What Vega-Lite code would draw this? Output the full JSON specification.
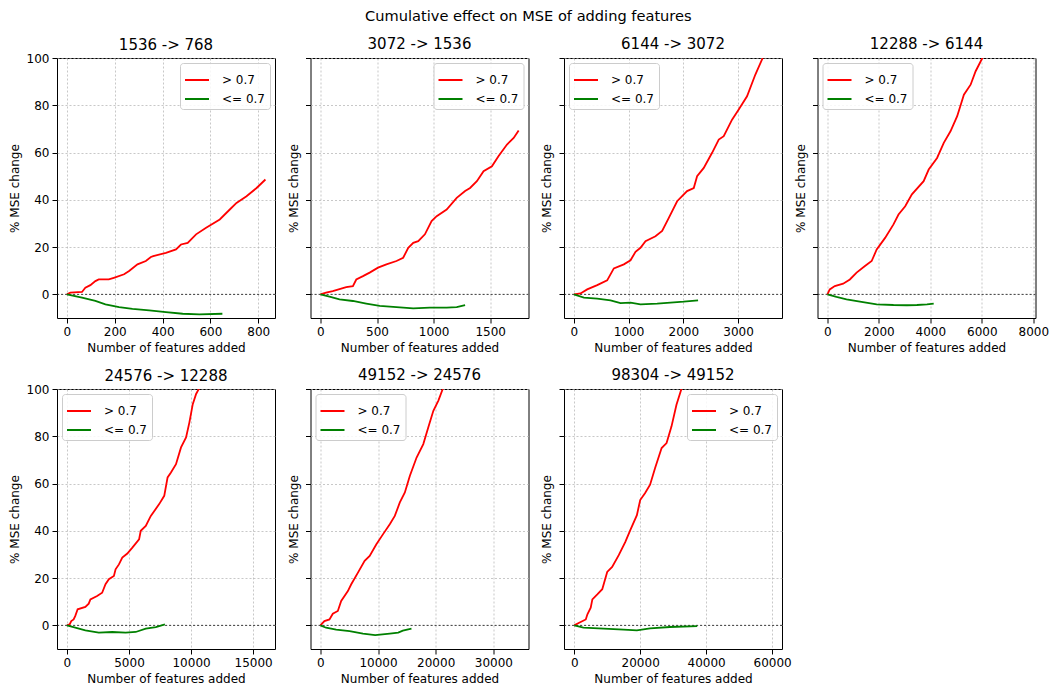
{
"$schema":"https://vega.github.io/schema/vega-lite/v6.json",
"background":"white",
"padding":{"left":7,"top":9,"right":5,"bottom":5},
"title":{"text":"Cumulative effect on MSE of adding features","fontSize":14.6,"fontWeight":"normal","anchor":"middle","color":"black","offset":12},
"columns":4,
"spacing":{"row":71,"column":35.5},
"bounds":"flush",
"data":{"values":[
{"p":1,"s":"> 0.7","x":0,"y":0},{"p":1,"s":"> 0.7","x":14,"y":0.7},{"p":1,"s":"> 0.7","x":63,"y":1},{"p":1,"s":"> 0.7","x":77,"y":2.8},{"p":1,"s":"> 0.7","x":98,"y":3.9},{"p":1,"s":"> 0.7","x":119,"y":5.6},{"p":1,"s":"> 0.7","x":133,"y":6.3},{"p":1,"s":"> 0.7","x":175,"y":6.3},{"p":1,"s":"> 0.7","x":196,"y":7},{"p":1,"s":"> 0.7","x":239,"y":8.5},{"p":1,"s":"> 0.7","x":260,"y":9.9},{"p":1,"s":"> 0.7","x":295,"y":12.7},{"p":1,"s":"> 0.7","x":330,"y":14.1},{"p":1,"s":"> 0.7","x":351,"y":15.8},{"p":1,"s":"> 0.7","x":361,"y":16.2},{"p":1,"s":"> 0.7","x":414,"y":17.6},{"p":1,"s":"> 0.7","x":456,"y":19},{"p":1,"s":"> 0.7","x":477,"y":21.1},{"p":1,"s":"> 0.7","x":505,"y":21.8},{"p":1,"s":"> 0.7","x":540,"y":25.4},{"p":1,"s":"> 0.7","x":582,"y":28.2},{"p":1,"s":"> 0.7","x":639,"y":31.7},{"p":1,"s":"> 0.7","x":681,"y":35.9},{"p":1,"s":"> 0.7","x":709,"y":38.7},{"p":1,"s":"> 0.7","x":751,"y":41.5},{"p":1,"s":"> 0.7","x":793,"y":45},{"p":1,"s":"> 0.7","x":830,"y":48.6},
{"p":1,"s":"<= 0.7","x":0,"y":0},{"p":1,"s":"<= 0.7","x":63,"y":-1.4},{"p":1,"s":"<= 0.7","x":119,"y":-2.8},{"p":1,"s":"<= 0.7","x":161,"y":-4.2},{"p":1,"s":"<= 0.7","x":218,"y":-5.4},{"p":1,"s":"<= 0.7","x":274,"y":-6.1},{"p":1,"s":"<= 0.7","x":344,"y":-6.8},{"p":1,"s":"<= 0.7","x":414,"y":-7.5},{"p":1,"s":"<= 0.7","x":484,"y":-8.2},{"p":1,"s":"<= 0.7","x":554,"y":-8.5},{"p":1,"s":"<= 0.7","x":650,"y":-8.2},
{"p":2,"s":"> 0.7","x":0,"y":0},{"p":2,"s":"> 0.7","x":50,"y":0.7},{"p":2,"s":"> 0.7","x":109,"y":1.4},{"p":2,"s":"> 0.7","x":228,"y":3.1},{"p":2,"s":"> 0.7","x":287,"y":3.5},{"p":2,"s":"> 0.7","x":317,"y":6.3},{"p":2,"s":"> 0.7","x":376,"y":7.7},{"p":2,"s":"> 0.7","x":435,"y":9.2},{"p":2,"s":"> 0.7","x":509,"y":11.3},{"p":2,"s":"> 0.7","x":583,"y":12.7},{"p":2,"s":"> 0.7","x":672,"y":14.1},{"p":2,"s":"> 0.7","x":731,"y":15.5},{"p":2,"s":"> 0.7","x":776,"y":19.7},{"p":2,"s":"> 0.7","x":820,"y":21.8},{"p":2,"s":"> 0.7","x":864,"y":22.5},{"p":2,"s":"> 0.7","x":923,"y":25.4},{"p":2,"s":"> 0.7","x":982,"y":31},{"p":2,"s":"> 0.7","x":1027,"y":33.1},{"p":2,"s":"> 0.7","x":1115,"y":35.9},{"p":2,"s":"> 0.7","x":1204,"y":40.8},{"p":2,"s":"> 0.7","x":1278,"y":43.7},{"p":2,"s":"> 0.7","x":1322,"y":45},{"p":2,"s":"> 0.7","x":1382,"y":47.9},{"p":2,"s":"> 0.7","x":1441,"y":52.1},{"p":2,"s":"> 0.7","x":1515,"y":54.2},{"p":2,"s":"> 0.7","x":1574,"y":58.5},{"p":2,"s":"> 0.7","x":1648,"y":63.4},{"p":2,"s":"> 0.7","x":1707,"y":66.2},{"p":2,"s":"> 0.7","x":1751,"y":69.3},
{"p":2,"s":"<= 0.7","x":0,"y":0},{"p":2,"s":"<= 0.7","x":80,"y":-1},{"p":2,"s":"<= 0.7","x":169,"y":-2.1},{"p":2,"s":"<= 0.7","x":287,"y":-2.8},{"p":2,"s":"<= 0.7","x":405,"y":-3.9},{"p":2,"s":"<= 0.7","x":524,"y":-4.9},{"p":2,"s":"<= 0.7","x":672,"y":-5.4},{"p":2,"s":"<= 0.7","x":820,"y":-5.9},{"p":2,"s":"<= 0.7","x":967,"y":-5.6},{"p":2,"s":"<= 0.7","x":1115,"y":-5.6},{"p":2,"s":"<= 0.7","x":1204,"y":-5.4},{"p":2,"s":"<= 0.7","x":1278,"y":-4.6},
{"p":3,"s":"> 0.7","x":0,"y":0},{"p":3,"s":"> 0.7","x":122,"y":0.4},{"p":3,"s":"> 0.7","x":243,"y":2.1},{"p":3,"s":"> 0.7","x":426,"y":3.9},{"p":3,"s":"> 0.7","x":608,"y":5.9},{"p":3,"s":"> 0.7","x":730,"y":11},{"p":3,"s":"> 0.7","x":913,"y":12.7},{"p":3,"s":"> 0.7","x":1035,"y":14.4},{"p":3,"s":"> 0.7","x":1126,"y":18},{"p":3,"s":"> 0.7","x":1217,"y":19.7},{"p":3,"s":"> 0.7","x":1309,"y":22.5},{"p":3,"s":"> 0.7","x":1491,"y":24.6},{"p":3,"s":"> 0.7","x":1613,"y":26.8},{"p":3,"s":"> 0.7","x":1735,"y":32.4},{"p":3,"s":"> 0.7","x":1887,"y":39.4},{"p":3,"s":"> 0.7","x":2069,"y":43.7},{"p":3,"s":"> 0.7","x":2191,"y":45},{"p":3,"s":"> 0.7","x":2252,"y":50},{"p":3,"s":"> 0.7","x":2374,"y":53.5},{"p":3,"s":"> 0.7","x":2526,"y":59.9},{"p":3,"s":"> 0.7","x":2648,"y":65.5},{"p":3,"s":"> 0.7","x":2739,"y":66.9},{"p":3,"s":"> 0.7","x":2891,"y":73.9},{"p":3,"s":"> 0.7","x":3013,"y":78.2},{"p":3,"s":"> 0.7","x":3165,"y":83.8},{"p":3,"s":"> 0.7","x":3317,"y":93},{"p":3,"s":"> 0.7","x":3451,"y":100},{"p":3,"s":"> 0.7","x":3623,"y":112},
{"p":3,"s":"<= 0.7","x":0,"y":0},{"p":3,"s":"<= 0.7","x":183,"y":-1.4},{"p":3,"s":"<= 0.7","x":426,"y":-1.8},{"p":3,"s":"<= 0.7","x":669,"y":-2.5},{"p":3,"s":"<= 0.7","x":852,"y":-3.7},{"p":3,"s":"<= 0.7","x":1035,"y":-3.5},{"p":3,"s":"<= 0.7","x":1217,"y":-4.2},{"p":3,"s":"<= 0.7","x":1522,"y":-3.9},{"p":3,"s":"<= 0.7","x":1765,"y":-3.5},{"p":3,"s":"<= 0.7","x":2008,"y":-3.1},{"p":3,"s":"<= 0.7","x":2270,"y":-2.5},
{"p":4,"s":"> 0.7","x":0,"y":0},{"p":4,"s":"> 0.7","x":91,"y":2.1},{"p":4,"s":"> 0.7","x":287,"y":3.5},{"p":4,"s":"> 0.7","x":612,"y":4.5},{"p":4,"s":"> 0.7","x":873,"y":6.3},{"p":4,"s":"> 0.7","x":1134,"y":9.2},{"p":4,"s":"> 0.7","x":1459,"y":12},{"p":4,"s":"> 0.7","x":1720,"y":14.1},{"p":4,"s":"> 0.7","x":1915,"y":19},{"p":4,"s":"> 0.7","x":2241,"y":23.9},{"p":4,"s":"> 0.7","x":2567,"y":29.6},{"p":4,"s":"> 0.7","x":2762,"y":33.8},{"p":4,"s":"> 0.7","x":3023,"y":37.3},{"p":4,"s":"> 0.7","x":3283,"y":42.3},{"p":4,"s":"> 0.7","x":3739,"y":47.9},{"p":4,"s":"> 0.7","x":3935,"y":52.8},{"p":4,"s":"> 0.7","x":4261,"y":57.7},{"p":4,"s":"> 0.7","x":4521,"y":64.1},{"p":4,"s":"> 0.7","x":4782,"y":69},{"p":4,"s":"> 0.7","x":5042,"y":75.4},{"p":4,"s":"> 0.7","x":5303,"y":84.5},{"p":4,"s":"> 0.7","x":5564,"y":88.7},{"p":4,"s":"> 0.7","x":5759,"y":94.4},{"p":4,"s":"> 0.7","x":6020,"y":100},{"p":4,"s":"> 0.7","x":7700,"y":125},
{"p":4,"s":"<= 0.7","x":0,"y":0},{"p":4,"s":"<= 0.7","x":352,"y":-1.1},{"p":4,"s":"<= 0.7","x":743,"y":-2.1},{"p":4,"s":"<= 0.7","x":1264,"y":-3.1},{"p":4,"s":"<= 0.7","x":1915,"y":-4.2},{"p":4,"s":"<= 0.7","x":2567,"y":-4.5},{"p":4,"s":"<= 0.7","x":3088,"y":-4.6},{"p":4,"s":"<= 0.7","x":3479,"y":-4.5},{"p":4,"s":"<= 0.7","x":3870,"y":-4.2},{"p":4,"s":"<= 0.7","x":4130,"y":-3.9},
{"p":5,"s":"> 0.7","x":0,"y":0},{"p":5,"s":"> 0.7","x":216,"y":0.4},{"p":5,"s":"> 0.7","x":351,"y":1.8},{"p":5,"s":"> 0.7","x":541,"y":2.5},{"p":5,"s":"> 0.7","x":676,"y":4},{"p":5,"s":"> 0.7","x":865,"y":6.8},{"p":5,"s":"> 0.7","x":1486,"y":7.8},{"p":5,"s":"> 0.7","x":1757,"y":9.2},{"p":5,"s":"> 0.7","x":1892,"y":11},{"p":5,"s":"> 0.7","x":2432,"y":12.4},{"p":5,"s":"> 0.7","x":2838,"y":13.8},{"p":5,"s":"> 0.7","x":3108,"y":17.4},{"p":5,"s":"> 0.7","x":3378,"y":19.5},{"p":5,"s":"> 0.7","x":3784,"y":20.9},{"p":5,"s":"> 0.7","x":3919,"y":23.7},{"p":5,"s":"> 0.7","x":4189,"y":25.8},{"p":5,"s":"> 0.7","x":4459,"y":28.7},{"p":5,"s":"> 0.7","x":4865,"y":30.4},{"p":5,"s":"> 0.7","x":5270,"y":32.9},{"p":5,"s":"> 0.7","x":5811,"y":36.4},{"p":5,"s":"> 0.7","x":5946,"y":40},{"p":5,"s":"> 0.7","x":6351,"y":42.1},{"p":5,"s":"> 0.7","x":6757,"y":46.3},{"p":5,"s":"> 0.7","x":7432,"y":51.3},{"p":5,"s":"> 0.7","x":7838,"y":54.8},{"p":5,"s":"> 0.7","x":8108,"y":62.6},{"p":5,"s":"> 0.7","x":8378,"y":64.7},{"p":5,"s":"> 0.7","x":8784,"y":68.2},{"p":5,"s":"> 0.7","x":9189,"y":75.3},{"p":5,"s":"> 0.7","x":9595,"y":79.5},{"p":5,"s":"> 0.7","x":9865,"y":85.9},{"p":5,"s":"> 0.7","x":10135,"y":93.6},{"p":5,"s":"> 0.7","x":10405,"y":97.9},{"p":5,"s":"> 0.7","x":10622,"y":100},{"p":5,"s":"> 0.7","x":13000,"y":140},{"p":5,"s":"> 0.7","x":15960,"y":175},
{"p":5,"s":"<= 0.7","x":0,"y":0},{"p":5,"s":"<= 0.7","x":676,"y":-1},{"p":5,"s":"<= 0.7","x":1486,"y":-2.1},{"p":5,"s":"<= 0.7","x":2568,"y":-3.1},{"p":5,"s":"<= 0.7","x":3649,"y":-2.8},{"p":5,"s":"<= 0.7","x":4730,"y":-3.1},{"p":5,"s":"<= 0.7","x":5541,"y":-2.8},{"p":5,"s":"<= 0.7","x":6351,"y":-1.4},{"p":5,"s":"<= 0.7","x":7162,"y":-0.7},{"p":5,"s":"<= 0.7","x":7892,"y":0.4},
{"p":6,"s":"> 0.7","x":0,"y":0},{"p":6,"s":"> 0.7","x":698,"y":1.8},{"p":6,"s":"> 0.7","x":1570,"y":2.5},{"p":6,"s":"> 0.7","x":2151,"y":4.9},{"p":6,"s":"> 0.7","x":3023,"y":6.1},{"p":6,"s":"> 0.7","x":3605,"y":10.3},{"p":6,"s":"> 0.7","x":4767,"y":14.5},{"p":6,"s":"> 0.7","x":5349,"y":17.4},{"p":6,"s":"> 0.7","x":6512,"y":22.3},{"p":6,"s":"> 0.7","x":7674,"y":27.3},{"p":6,"s":"> 0.7","x":8547,"y":29.4},{"p":6,"s":"> 0.7","x":9709,"y":34.3},{"p":6,"s":"> 0.7","x":10872,"y":38.6},{"p":6,"s":"> 0.7","x":12035,"y":42.8},{"p":6,"s":"> 0.7","x":12907,"y":46.3},{"p":6,"s":"> 0.7","x":13779,"y":52},{"p":6,"s":"> 0.7","x":14651,"y":56.2},{"p":6,"s":"> 0.7","x":15523,"y":63.3},{"p":6,"s":"> 0.7","x":16686,"y":71},{"p":6,"s":"> 0.7","x":17849,"y":76.7},{"p":6,"s":"> 0.7","x":18721,"y":83.8},{"p":6,"s":"> 0.7","x":19593,"y":90.8},{"p":6,"s":"> 0.7","x":20465,"y":95.1},{"p":6,"s":"> 0.7","x":21221,"y":100},{"p":6,"s":"> 0.7","x":27000,"y":150},{"p":6,"s":"> 0.7","x":34380,"y":200},
{"p":6,"s":"<= 0.7","x":0,"y":0},{"p":6,"s":"<= 0.7","x":988,"y":-1},{"p":6,"s":"<= 0.7","x":2733,"y":-1.8},{"p":6,"s":"<= 0.7","x":5058,"y":-2.4},{"p":6,"s":"<= 0.7","x":7384,"y":-3.5},{"p":6,"s":"<= 0.7","x":9500,"y":-4.1},{"p":6,"s":"<= 0.7","x":12035,"y":-3.5},{"p":6,"s":"<= 0.7","x":13500,"y":-3.1},{"p":6,"s":"<= 0.7","x":14300,"y":-2.2},{"p":6,"s":"<= 0.7","x":15800,"y":-1.4},
{"p":7,"s":"> 0.7","x":0,"y":0},{"p":7,"s":"> 0.7","x":1500,"y":1.1},{"p":7,"s":"> 0.7","x":3500,"y":2.5},{"p":7,"s":"> 0.7","x":4000,"y":4.7},{"p":7,"s":"> 0.7","x":5000,"y":7.5},{"p":7,"s":"> 0.7","x":5500,"y":11},{"p":7,"s":"> 0.7","x":7000,"y":13.1},{"p":7,"s":"> 0.7","x":8500,"y":15.3},{"p":7,"s":"> 0.7","x":10000,"y":22.6},{"p":7,"s":"> 0.7","x":11500,"y":24.7},{"p":7,"s":"> 0.7","x":13500,"y":29.7},{"p":7,"s":"> 0.7","x":15500,"y":35.3},{"p":7,"s":"> 0.7","x":17000,"y":40.3},{"p":7,"s":"> 0.7","x":19000,"y":46.6},{"p":7,"s":"> 0.7","x":20000,"y":53},{"p":7,"s":"> 0.7","x":21500,"y":56},{"p":7,"s":"> 0.7","x":23000,"y":59.5},{"p":7,"s":"> 0.7","x":24500,"y":66.5},{"p":7,"s":"> 0.7","x":26500,"y":75},{"p":7,"s":"> 0.7","x":28000,"y":77.1},{"p":7,"s":"> 0.7","x":29500,"y":84.2},{"p":7,"s":"> 0.7","x":31000,"y":93.3},{"p":7,"s":"> 0.7","x":32500,"y":100},{"p":7,"s":"> 0.7","x":45000,"y":170},{"p":7,"s":"> 0.7","x":60000,"y":250},
{"p":7,"s":"<= 0.7","x":0,"y":0},{"p":7,"s":"<= 0.7","x":2800,"y":-1},{"p":7,"s":"<= 0.7","x":8900,"y":-1.4},{"p":7,"s":"<= 0.7","x":15000,"y":-1.8},{"p":7,"s":"<= 0.7","x":19000,"y":-2.1},{"p":7,"s":"<= 0.7","x":23000,"y":-1.3},{"p":7,"s":"<= 0.7","x":29000,"y":-0.7},{"p":7,"s":"<= 0.7","x":37300,"y":-0.3}
]},
"concat":[
{"title":{"text":"1536 -> 768","fontWeight":"normal","fontSize":15,"dy":7},"width":218,"height":260,"layer":[
 {"data":{"values":[{}]},"mark":{"type":"rule","color":"black","strokeDash":[2,2],"strokeWidth":0.7},"encoding":{"y":{"datum":0,"type":"quantitative"}}},
 {"transform":[{"filter":"datum.p==1"}],"mark":{"type":"line","clip":true,"strokeWidth":1.8},"encoding":{
  "x":{"field":"x","type":"quantitative","scale":{"domain":[-41.5,870],"nice":false,"zero":false},"axis":{"values":[0,200,400,600,800],"format":"d","title":"Number of features added"}},
  "y":{"field":"y","type":"quantitative","scale":{"domain":[-10,100],"nice":false,"zero":false},"axis":{"values":[0,20,40,60,80,100],"title":"% MSE change"}},
  "color":{"field":"s","type":"nominal","scale":{"domain":["> 0.7","<= 0.7"],"range":["#ff0000","#008000"]},"legend":{"title":null,"orient":"top-right"}}}}]},
{"title":{"text":"3072 -> 1536","fontWeight":"normal","fontSize":15},"width":218,"height":260,"layer":[
 {"data":{"values":[{}]},"mark":{"type":"rule","color":"black","strokeDash":[2,2],"strokeWidth":0.7},"encoding":{"y":{"datum":0,"type":"quantitative"}}},
 {"transform":[{"filter":"datum.p==2"}],"mark":{"type":"line","clip":true,"strokeWidth":1.8},"encoding":{
  "x":{"field":"x","type":"quantitative","scale":{"domain":[-87.5,1838],"nice":false,"zero":false},"axis":{"values":[0,500,1000,1500],"format":"d","title":"Number of features added"}},
  "y":{"field":"y","type":"quantitative","scale":{"domain":[-10,100],"nice":false,"zero":false},"axis":{"values":[0,20,40,60,80,100],"labels":false,"title":"% MSE change"}},
  "color":{"field":"s","type":"nominal","scale":{"domain":["> 0.7","<= 0.7"],"range":["#ff0000","#008000"]},"legend":{"title":null,"orient":"top-right"}}}}]},
{"title":{"text":"6144 -> 3072","fontWeight":"normal","fontSize":15},"width":218,"height":260,"layer":[
 {"data":{"values":[{}]},"mark":{"type":"rule","color":"black","strokeDash":[2,2],"strokeWidth":0.7},"encoding":{"y":{"datum":0,"type":"quantitative"}}},
 {"transform":[{"filter":"datum.p==3"}],"mark":{"type":"line","clip":true,"strokeWidth":1.8},"encoding":{
  "x":{"field":"x","type":"quantitative","scale":{"domain":[-181,3804],"nice":false,"zero":false},"axis":{"values":[0,1000,2000,3000],"format":"d","title":"Number of features added"}},
  "y":{"field":"y","type":"quantitative","scale":{"domain":[-10,100],"nice":false,"zero":false},"axis":{"values":[0,20,40,60,80,100],"labels":false,"title":"% MSE change"}},
  "color":{"field":"s","type":"nominal","scale":{"domain":["> 0.7","<= 0.7"],"range":["#ff0000","#008000"]},"legend":{"title":null,"orient":"top-left"}}}}]},
{"title":{"text":"12288 -> 6144","fontWeight":"normal","fontSize":15},"width":218,"height":260,"layer":[
 {"data":{"values":[{}]},"mark":{"type":"rule","color":"black","strokeDash":[2,2],"strokeWidth":0.7},"encoding":{"y":{"datum":0,"type":"quantitative"}}},
 {"transform":[{"filter":"datum.p==4"}],"mark":{"type":"line","clip":true,"strokeWidth":1.8},"encoding":{
  "x":{"field":"x","type":"quantitative","scale":{"domain":[-385,8085],"nice":false,"zero":false},"axis":{"values":[0,2000,4000,6000,8000],"format":"d","title":"Number of features added"}},
  "y":{"field":"y","type":"quantitative","scale":{"domain":[-10,100],"nice":false,"zero":false},"axis":{"values":[0,20,40,60,80,100],"labels":false,"title":"% MSE change"}},
  "color":{"field":"s","type":"nominal","scale":{"domain":["> 0.7","<= 0.7"],"range":["#ff0000","#008000"]},"legend":{"title":null,"orient":"top-left"}}}}]},
{"title":{"text":"24576 -> 12288","fontWeight":"normal","fontSize":15,"dy":7},"width":218,"height":260,"layer":[
 {"data":{"values":[{}]},"mark":{"type":"rule","color":"black","strokeDash":[2,2],"strokeWidth":0.7},"encoding":{"y":{"datum":0,"type":"quantitative"}}},
 {"transform":[{"filter":"datum.p==5"}],"mark":{"type":"line","clip":true,"strokeWidth":1.8},"encoding":{
  "x":{"field":"x","type":"quantitative","scale":{"domain":[-798,16758],"nice":false,"zero":false},"axis":{"values":[0,5000,10000,15000],"format":"d","title":"Number of features added"}},
  "y":{"field":"y","type":"quantitative","scale":{"domain":[-10,100],"nice":false,"zero":false},"axis":{"values":[0,20,40,60,80,100],"title":"% MSE change"}},
  "color":{"field":"s","type":"nominal","scale":{"domain":["> 0.7","<= 0.7"],"range":["#ff0000","#008000"]},"legend":{"title":null,"orient":"top-left"}}}}]},
{"title":{"text":"49152 -> 24576","fontWeight":"normal","fontSize":15},"width":218,"height":260,"layer":[
 {"data":{"values":[{}]},"mark":{"type":"rule","color":"black","strokeDash":[2,2],"strokeWidth":0.7},"encoding":{"y":{"datum":0,"type":"quantitative"}}},
 {"transform":[{"filter":"datum.p==6"}],"mark":{"type":"line","clip":true,"strokeWidth":1.8},"encoding":{
  "x":{"field":"x","type":"quantitative","scale":{"domain":[-1719,36100],"nice":false,"zero":false},"axis":{"values":[0,10000,20000,30000],"format":"d","title":"Number of features added"}},
  "y":{"field":"y","type":"quantitative","scale":{"domain":[-10,100],"nice":false,"zero":false},"axis":{"values":[0,20,40,60,80,100],"labels":false,"title":"% MSE change"}},
  "color":{"field":"s","type":"nominal","scale":{"domain":["> 0.7","<= 0.7"],"range":["#ff0000","#008000"]},"legend":{"title":null,"orient":"top-left"}}}}]},
{"title":{"text":"98304 -> 49152","fontWeight":"normal","fontSize":15},"width":218,"height":260,"layer":[
 {"data":{"values":[{}]},"mark":{"type":"rule","color":"black","strokeDash":[2,2],"strokeWidth":0.7},"encoding":{"y":{"datum":0,"type":"quantitative"}}},
 {"transform":[{"filter":"datum.p==7"}],"mark":{"type":"line","clip":true,"strokeWidth":1.8},"encoding":{
  "x":{"field":"x","type":"quantitative","scale":{"domain":[-3100,63000],"nice":false,"zero":false},"axis":{"values":[0,20000,40000,60000],"format":"d","title":"Number of features added"}},
  "y":{"field":"y","type":"quantitative","scale":{"domain":[-10,100],"nice":false,"zero":false},"axis":{"values":[0,20,40,60,80,100],"labels":false,"title":"% MSE change"}},
  "color":{"field":"s","type":"nominal","scale":{"domain":["> 0.7","<= 0.7"],"range":["#ff0000","#008000"]},"legend":{"title":null,"orient":"top-right"}}}}]}
],
"resolve":{"scale":{"color":"independent"},"legend":{"color":"independent"}},
"config":{
 "font":"DejaVu Sans",
 "view":{"stroke":"black","strokeWidth":1},
 "axis":{"domain":false,"grid":true,"gridColor":"#b0b0b0","gridDash":[2,2],"gridWidth":0.7,"tickColor":"black","tickSize":5,"labelColor":"black","labelFontSize":12,"titleFontSize":12,"titleFontWeight":"normal","titleColor":"black","labelPadding":3,"titlePadding":5},
 "title":{"fontSize":15,"fontWeight":"normal","color":"black","offset":6},
 "legend":{"offset":5,"fillColor":"rgba(255,255,255,0.85)","strokeColor":"#cccccc","cornerRadius":3,"padding":4,"symbolType":"stroke","symbolSize":576,"symbolStrokeWidth":2,"symbolOpacity":1,"labelFontSize":12,"labelColor":"black","labelOffset":12,"rowPadding":-1}
}
}
